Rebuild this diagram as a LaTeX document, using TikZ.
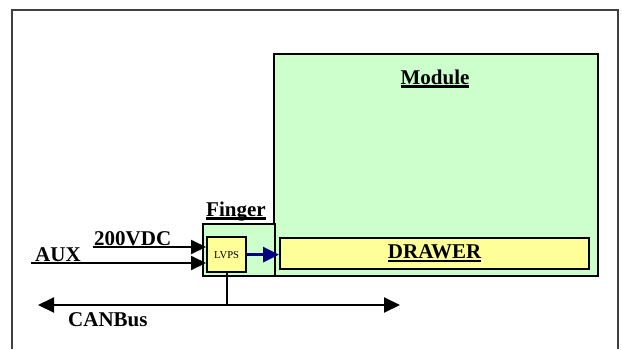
\documentclass[tikz,border=0pt]{standalone}
\usepackage{fontspec}
\setmainfont{Liberation Serif}
\usepackage{tikz}
\usetikzlibrary{arrows.meta,positioning,calc}
\definecolor{boardgreen}{HTML}{CCFFCC}
\definecolor{cardyellow}{HTML}{FFFF99}
\definecolor{linkblue}{HTML}{000080}
\newcommand{\undertext}[1]{\setbox0\hbox{#1}\leavevmode\rlap{\raisebox{-3.8pt}{\rule{\wd0}{2.6pt}}}\box0}

\begin{document}
\begin{tikzpicture}[
  x=1pt,y=-1pt,
  frame/.style={draw=black!75,line width=2pt},
  board/.style={draw=black,fill=boardgreen,line width=2pt,inner sep=0pt,anchor=north west},
  card/.style={draw=black,fill=cardyellow,line width=2.2pt,inner sep=0pt,anchor=north west,font=\fontsize{21}{24}\selectfont\bfseries},
  title/.style={inner sep=0pt,font=\fontsize{21}{24}\selectfont\bfseries},
  feed/.style={-{Triangle[length=15pt,width=14pt]},line width=2pt,color=black},
  power/.style={-{Triangle[length=16pt,width=15pt]},line width=3.2pt,color=linkblue},
  bus/.style={{Triangle[length=16pt,width=15pt]}-{Triangle[length=16pt,width=15pt]},line width=2pt,color=black},
  wire/.style={line width=2pt,color=black}
]
\useasboundingbox (0,0) rectangle (622,349);
\draw[frame] (12,349) -- (12,10) -- (618,10) -- (618,349);

\node[board,minimum width=324pt,minimum height=222pt] (module) at (273,53) {};
\node[title,anchor=base] (moduletitle) at (435,84) {\undertext{Module}};
\node[board,minimum width=72pt,minimum height=52pt,line width=1.6pt] (finger) at (202,223) {};
\node[title,anchor=base west] (fingertitle) at (206,216) {\undertext{Finger}};
\node[card,minimum width=309pt,minimum height=31pt] (drawer) at (279,237) {\undertext{DRAWER}};
\node[card,minimum width=39pt,minimum height=35pt,font=\fontsize{10.6}{12}\selectfont] (lvps) at (206,236) {LVPS};

\coordinate (vdcin) at (93,247);
\coordinate (auxin) at (31,263);
\node[title,anchor=base west] (vdclabel) at (94,245) {200VDC};
\node[title,anchor=base west] (auxlabel) at (35,261) {AUX};
\draw[feed] (vdcin) -- (vdcin -| lvps.west);
\draw[feed] (auxin) -- (auxin -| lvps.west);
\draw[power] (lvps.east) -- (lvps.east -| drawer.west);

\coordinate (canleft) at (38,305);
\coordinate (canright) at (400,305);
\draw[bus] (canleft) -- (canright);
\draw[wire] (lvps.south) -- (lvps.south |- canleft);
\node[title,anchor=base west] (canlabel) at (68,326) {CANBus};
\end{tikzpicture}
\end{document}
